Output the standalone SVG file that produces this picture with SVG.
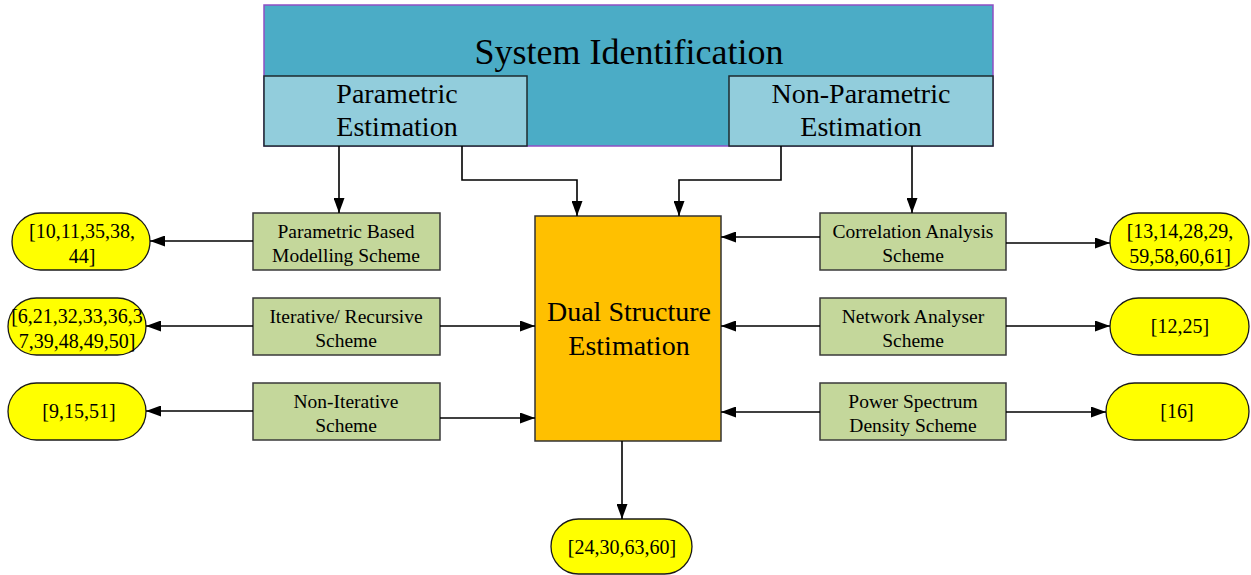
<svg xmlns="http://www.w3.org/2000/svg" width="1251" height="575" viewBox="0 0 1251 575">
  <style>
    text { font-family: "Liberation Serif", "Times New Roman", serif; fill: #000; text-anchor: middle; }
    .est { fill: #92CDDC; stroke: #1e2a2e; stroke-width: 1.5; }
    .scheme { fill: #C4D79B; stroke: #3a3a3a; stroke-width: 1.5; }
    .ref { fill: #FFFF00; stroke: #1a1a1a; stroke-width: 1.3; }
    .lbl { font-size: 19.5px; }
    .ref-t { font-size: 20px; }
    .big { font-size: 28px; }
    .conn { fill: none; stroke: #000; stroke-width: 1.6; marker-end: url(#arrow); }
  </style>
  <defs>
    <marker id="arrow" viewBox="0 0 15 11" refX="15" refY="5.5" markerWidth="15" markerHeight="11" markerUnits="userSpaceOnUse" orient="auto">
      <path d="M0,0 L15,5.5 L0,11 z" fill="#000"/>
    </marker>
  </defs>
  <rect width="1251" height="575" fill="#fff"/>

  <g id="system-identification">
    <rect x="264" y="5" width="729" height="141" fill="#4BACC6" stroke="#8e4fc4" stroke-width="1.5"/>
    <text x="629" y="64" font-size="36">System Identification</text>
  </g>
  <g id="parametric-estimation">
    <rect class="est" x="264" y="76" width="263" height="70"/>
    <text class="big" x="397" y="103">Parametric</text>
    <text class="big" x="397" y="136">Estimation</text>
  </g>
  <g id="non-parametric-estimation">
    <rect class="est" x="729" y="76" width="264" height="70"/>
    <text class="big" x="861" y="103">Non-Parametric</text>
    <text class="big" x="861" y="136">Estimation</text>
  </g>

  <g id="dual-structure">
    <rect x="535" y="216" width="186" height="225" fill="#FFC000" stroke="#333" stroke-width="1.5"/>
    <text class="big" x="629" y="321">Dual Structure</text>
    <text class="big" x="629" y="355">Estimation</text>
  </g>

  <g id="parametric-based">
    <rect class="scheme" x="253" y="213" width="187" height="57"/>
    <text class="lbl" x="346" y="238">Parametric Based</text>
    <text class="lbl" x="346" y="262">Modelling Scheme</text>
  </g>
  <g id="iterative">
    <rect class="scheme" x="253" y="298" width="187" height="57"/>
    <text class="lbl" x="346" y="323">Iterative/ Recursive</text>
    <text class="lbl" x="346" y="347">Scheme</text>
  </g>
  <g id="non-iterative">
    <rect class="scheme" x="253" y="383" width="187" height="57"/>
    <text class="lbl" x="346" y="408">Non-Iterative</text>
    <text class="lbl" x="346" y="432">Scheme</text>
  </g>
  <g id="correlation">
    <rect class="scheme" x="820" y="213" width="186" height="57"/>
    <text class="lbl" x="913" y="238">Correlation Analysis</text>
    <text class="lbl" x="913" y="262">Scheme</text>
  </g>
  <g id="network">
    <rect class="scheme" x="820" y="298" width="186" height="57"/>
    <text class="lbl" x="913" y="323">Network Analyser</text>
    <text class="lbl" x="913" y="347">Scheme</text>
  </g>
  <g id="power-spectrum">
    <rect class="scheme" x="820" y="383" width="186" height="57"/>
    <text class="lbl" x="913" y="408">Power Spectrum</text>
    <text class="lbl" x="913" y="432">Density Scheme</text>
  </g>

  <g id="ref-parametric">
    <rect class="ref" x="12" y="213" width="138" height="57" rx="28.5"/>
    <text class="ref-t" x="82" y="238">[10,11,35,38,</text>
    <text class="ref-t" x="82" y="263">44]</text>
  </g>
  <g id="ref-iterative">
    <rect class="ref" x="8" y="298" width="138" height="57" rx="28.5"/>
    <text class="ref-t" x="77" y="323">[6,21,32,33,36,3</text>
    <text class="ref-t" x="77" y="348">7,39,48,49,50]</text>
  </g>
  <g id="ref-non-iterative">
    <rect class="ref" x="8" y="383" width="138" height="57" rx="28.5"/>
    <text class="ref-t" x="79" y="418">[9,15,51]</text>
  </g>
  <g id="ref-correlation">
    <rect class="ref" x="1110" y="213" width="139" height="57" rx="28.5"/>
    <text class="ref-t" x="1180" y="238">[13,14,28,29,</text>
    <text class="ref-t" x="1180" y="263">59,58,60,61]</text>
  </g>
  <g id="ref-network">
    <rect class="ref" x="1110" y="298" width="139" height="57" rx="28.5"/>
    <text class="ref-t" x="1180" y="333">[12,25]</text>
  </g>
  <g id="ref-power">
    <rect class="ref" x="1106" y="383" width="143" height="57" rx="28.5"/>
    <text class="ref-t" x="1177" y="418">[16]</text>
  </g>
  <g id="ref-dual">
    <rect class="ref" x="551" y="519" width="141" height="55" rx="27.5"/>
    <text class="ref-t" x="622" y="554">[24,30,63,60]</text>
  </g>

  <g id="connectors">
    <path class="conn" d="M339,146 V213"/>
    <path class="conn" d="M462,146 V180 H577 V216"/>
    <path class="conn" d="M781,146 V180 H679 V216"/>
    <path class="conn" d="M912,146 V213"/>

    <path class="conn" d="M253,241 H150"/>
    <path class="conn" d="M253,326 H146"/>
    <path class="conn" d="M253,411 H146"/>
    <path class="conn" d="M440,326 H535"/>
    <path class="conn" d="M440,418 H535"/>

    <path class="conn" d="M820,237 H721"/>
    <path class="conn" d="M820,326 H721"/>
    <path class="conn" d="M820,412 H721"/>
    <path class="conn" d="M1006,243 H1110"/>
    <path class="conn" d="M1006,326 H1110"/>
    <path class="conn" d="M1006,412 H1106"/>

    <path class="conn" d="M622,441 V519"/>
  </g>
</svg>
